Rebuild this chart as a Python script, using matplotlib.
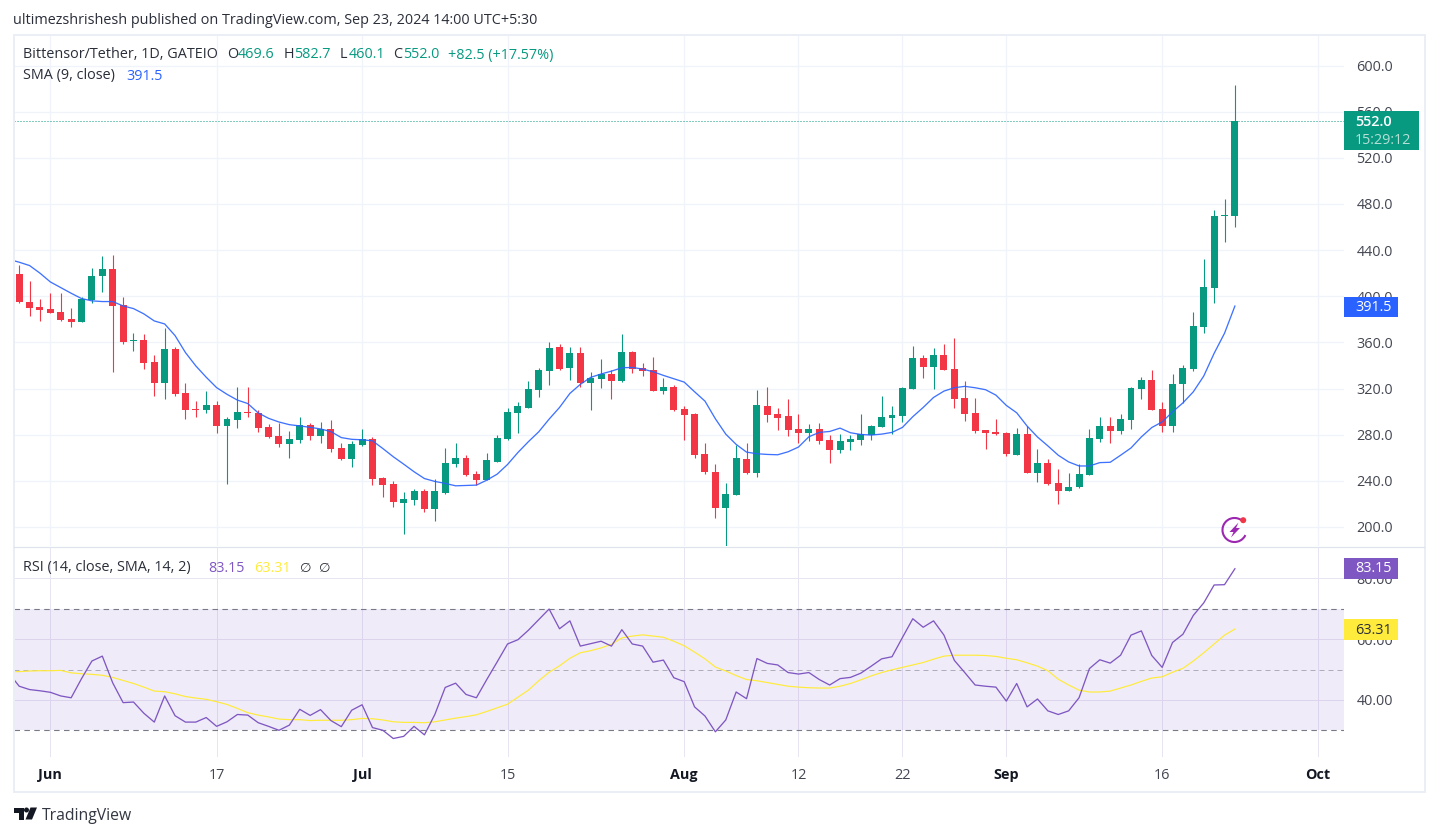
import matplotlib
matplotlib.use("Agg")
from matplotlib import pyplot as plt
from matplotlib.patches import Arc, Circle, Polygon, Rectangle
import pandas as pd

# daily candles
opens = [419.4, 395.1, 390.8, 389.0, 386.4, 380.3, 377.7, 396.8, 417.6, 423.7,
         392.5, 361.5, 362.1, 343.1, 324.9, 354.3, 316.2, 302.3, 301.5, 305.8,
         287.6, 292.8, 299.7, 298.9, 286.7, 278.9, 272.0, 275.4, 288.4, 278.9,
         285.0, 268.5, 259.0, 271.0, 276.2, 242.4, 237.2, 220.7, 223.3, 231.1,
         215.5, 229.4, 254.5, 259.7, 245.9, 240.6, 256.2, 276.2, 298.7, 303.1,
         318.7, 335.1, 356.0, 337.7, 350.8, 324.7, 328.2, 332.6, 326.5, 351.6,
         337.7, 336.0, 317.8, 321.3, 302.2, 297.9, 263.2, 247.6, 216.4, 227.6,
         258.9, 246.7, 304.8, 297.9, 296.1, 284.9, 281.4, 284.9, 275.3, 266.6,
         273.6, 275.3, 279.7, 286.6, 294.4, 296.1, 319.5, 346.4, 338.6, 349.0,
         336.9, 311.9, 298.7, 284.0, 282.3, 281.4, 262.3, 280.5, 246.5, 255.2,
         238.1, 231.2, 234.7, 244.8, 276.0, 287.3, 283.0, 292.6, 319.5, 327.3,
         302.1, 287.3, 323.8, 336.9, 373.4, 407.2, 469.4, 469.6]
highs = [427.2, 413.3, 397.7, 402.9, 402.9, 389.9, 399.4, 424.6, 435.0, 435.8,
         399.4, 368.2, 367.3, 349.1, 372.5, 356.1, 324.9, 309.3, 317.9, 309.3,
         295.4, 321.4, 321.4, 301.5, 289.3, 290.2, 283.2, 295.4, 290.2, 291.0,
         292.8, 272.8, 274.6, 284.9, 277.9, 243.2, 239.8, 230.2, 232.8, 232.8,
         241.5, 268.4, 272.7, 262.3, 248.4, 264.0, 279.7, 303.0, 308.3, 326.5,
         337.7, 360.3, 358.6, 356.0, 356.0, 334.3, 345.5, 336.0, 367.2, 352.5,
         342.0, 347.3, 329.0, 323.0, 304.8, 298.7, 272.7, 254.5, 238.0, 271.0,
         272.7, 318.7, 321.3, 303.1, 310.9, 298.0, 289.2, 290.0, 279.7, 280.5,
         279.7, 298.0, 288.3, 313.5, 304.8, 321.3, 356.8, 349.0, 355.0, 358.6,
         363.8, 326.5, 311.9, 284.0, 293.5, 282.3, 285.7, 287.5, 267.5, 258.7,
         250.3, 246.8, 254.6, 284.7, 295.2, 295.2, 297.8, 321.2, 329.9, 336.0,
         308.2, 332.5, 340.3, 386.4, 432.4, 475.0, 484.6, 582.7]
lows = [393.9, 382.9, 378.6, 385.5, 378.6, 373.4, 377.7, 394.2, 403.8, 334.4,
        358.7, 352.6, 337.0, 313.6, 311.0, 313.6, 293.6, 295.4, 298.9, 281.5,
        237.3, 285.8, 295.4, 282.4, 277.2, 269.4, 259.8, 272.8, 275.4, 272.8,
        265.0, 258.0, 252.0, 270.1, 236.3, 225.9, 217.2, 193.8, 219.0, 212.9,
        205.0, 228.5, 251.9, 244.1, 236.3, 240.6, 256.2, 275.3, 281.4, 303.1,
        312.6, 323.0, 336.0, 327.3, 321.3, 301.3, 320.4, 310.9, 325.6, 333.4,
        330.8, 317.8, 315.2, 300.5, 275.3, 259.7, 245.9, 207.7, 183.6, 227.6,
        245.9, 243.2, 290.9, 284.0, 278.8, 272.7, 274.5, 272.0, 255.4, 264.0,
        266.6, 271.0, 275.3, 286.6, 280.5, 291.0, 319.5, 329.1, 319.5, 336.0,
        303.1, 291.8, 281.4, 267.5, 279.7, 261.5, 262.3, 246.7, 238.9, 236.1,
        220.0, 231.2, 233.8, 244.8, 273.4, 272.6, 280.4, 284.7, 310.8, 301.2,
        282.1, 282.1, 307.3, 335.1, 368.1, 394.2, 447.2, 460.1]
closes = [395.1, 389.9, 388.2, 385.5, 379.5, 377.7, 397.7, 417.6, 423.7, 391.6,
          360.4, 362.0, 342.2, 324.9, 354.3, 315.3, 301.5, 301.7, 305.8, 287.6,
          293.6, 299.7, 299.2, 285.8, 278.0, 272.0, 276.3, 288.4, 278.9, 285.0,
          267.6, 259.0, 272.0, 276.2, 241.5, 236.3, 221.6, 224.2, 231.1, 215.5,
          231.1, 255.4, 259.7, 245.0, 240.6, 258.0, 277.1, 299.6, 304.8, 319.5,
          336.0, 355.1, 336.6, 350.8, 324.7, 329.0, 332.6, 326.5, 351.6, 336.9,
          335.1, 317.8, 321.3, 301.3, 297.0, 262.3, 247.6, 216.4, 228.5, 259.7,
          246.7, 305.7, 297.0, 294.4, 284.0, 281.4, 284.9, 274.5, 266.6, 274.5,
          276.2, 280.5, 287.5, 295.3, 297.0, 320.4, 346.4, 338.6, 349.0, 336.0,
          311.0, 297.9, 283.1, 281.4, 280.5, 263.2, 280.5, 246.7, 255.2, 237.0,
          231.2, 234.7, 245.6, 276.9, 287.3, 283.0, 293.4, 320.4, 327.3, 301.2,
          287.3, 323.8, 337.7, 374.2, 408.1, 469.8, 469.6, 552.0]
# indicator lines start one day earlier, they run in from the left edge
sma_close = [432.0,
             429.5, 426.6, 420.0, 412.4, 407.5, 402.6, 398.0, 396.0, 395.4, 395.4,
             391.6, 389.3, 384.7, 378.6, 376.0, 365.9, 351.2, 339.6, 329.8, 320.8,
             315.0, 310.0, 307.0, 298.9, 294.2, 291.0, 288.7, 287.6, 286.4, 285.0,
             282.7, 277.5, 276.0, 275.6, 274.7, 268.0, 260.9, 254.5, 247.9, 242.0,
             239.5, 237.8, 235.7, 236.0, 236.3, 240.6, 245.8, 254.2, 264.6, 273.9,
             282.5, 293.5, 303.6, 315.8, 323.6, 329.7, 332.6, 335.1, 338.0, 338.3,
             336.9, 334.6, 331.4, 328.5, 325.6, 317.2, 309.1, 293.8, 280.5, 271.6,
             264.9, 263.5, 262.9, 262.6, 265.2, 269.3, 278.2, 282.0, 282.8, 285.7,
             281.7, 280.2, 279.7, 280.5, 282.0, 286.3, 295.6, 303.6, 312.3, 317.8,
             320.7, 321.9, 320.7, 319.0, 314.3, 305.4, 299.0, 287.5, 278.0, 270.3,
             262.2, 256.4, 252.9, 252.9, 255.8, 256.1, 262.2, 268.5, 278.1, 286.2,
             291.1, 299.8, 307.6, 317.2, 330.8, 350.5, 367.9, 391.5]
rsi = [48.8,
       44.5, 43.4, 43.0, 42.5, 41.3, 40.7, 47.0, 52.8, 54.4, 45.6,
       39.1, 39.3, 35.6, 32.7, 41.3, 34.8, 32.7, 32.7, 34.2, 31.3,
       32.8, 35.2, 35.0, 32.5, 31.3, 30.0, 31.7, 36.9, 34.9, 36.8,
       33.2, 31.2, 36.6, 38.4, 30.9, 30.0, 27.3, 28.0, 31.3, 28.5,
       35.2, 44.1, 45.5, 41.8, 40.7, 46.7, 52.5, 58.4, 59.8, 62.9,
       66.4, 69.9, 63.4, 66.0, 57.7, 58.5, 59.3, 57.7, 63.1, 58.4,
       57.7, 52.4, 53.1, 47.3, 46.0, 37.7, 34.7, 29.5, 33.4, 42.6,
       40.4, 53.6, 52.0, 51.5, 49.0, 48.5, 49.0, 46.7, 44.9, 47.0,
       47.4, 48.8, 51.1, 53.5, 54.2, 60.5, 66.7, 63.9, 66.0, 61.3,
       53.0, 49.0, 44.9, 44.5, 44.2, 39.6, 45.4, 37.7, 40.3, 36.4,
       35.2, 36.4, 40.7, 50.3, 53.2, 52.1, 54.7, 61.3, 62.7, 54.6,
       50.7, 58.9, 61.6, 67.8, 71.9, 77.8, 77.9, 83.15]
rsi_sma = [49.3,
           49.3, 49.5, 49.6, 49.6, 49.7, 48.9, 48.6, 48.4, 48.1, 47.4,
           46.4, 45.4, 44.2, 42.9, 42.7, 42.0, 41.1, 40.6, 40.2, 39.4,
           38.5, 37.2, 35.8, 35.0, 34.4, 33.7, 33.5, 33.5, 33.2, 33.3,
           33.3, 33.3, 33.5, 33.9, 33.8, 33.4, 32.8, 32.6, 32.6, 32.5,
           32.8, 33.4, 34.0, 34.5, 35.1, 36.2, 37.4, 38.6, 40.9, 43.2,
           46.3, 49.1, 51.2, 53.7, 55.5, 56.2, 57.1, 58.3, 60.4, 61.0,
           61.4, 61.0, 60.6, 59.3, 57.8, 55.7, 53.5, 50.8, 49.5, 48.0,
           46.7, 46.3, 45.7, 45.1, 44.5, 44.2, 44.0, 43.9, 43.9, 44.5,
           45.4, 46.6, 47.9, 49.0, 49.9, 50.7, 51.5, 52.3, 53.4, 54.4,
           54.7, 54.7, 54.7, 54.6, 54.3, 53.7, 53.2, 52.2, 51.1, 49.6,
           46.8, 44.9, 43.2, 42.6, 42.6, 42.9, 43.9, 44.9, 46.1, 47.2,
           47.6, 49.1, 50.4, 52.8, 55.5, 58.4, 61.3, 63.31]

price_ticks = [200, 240, 280, 320, 360, 400, 440, 480, 520, 560, 600]
rsi_ticks = [40, 60, 80]
date_ticks = ["2024-06-01", "2024-06-17", "2024-07-01", "2024-07-15", "2024-08-01",
              "2024-08-12", "2024-08-22", "2024-09-01", "2024-09-16", "2024-10-01"]
date_labels = ["Jun", "17", "Jul", "15", "Aug", "12", "22", "Sep", "16", "Oct"]
months = ("Jun", "Jul", "Aug", "Sep", "Oct")

GREEN = "#089981"
RED = "#F23645"
BLUE = "#2962FF"
PURPLE = "#7E57C2"
YELLOW = "#FFEB3B"
GRID = "#f0f3fa"
FRAME = "#eceef5"
TEXT = "#2a2e39"
AXIS_TEXT = "#434651"
PX = 0.72  # one pixel in points at dpi 100
FS = 10.35

plt.rcParams["font.family"] = ["Open Sans", "DejaVu Sans"]
W, H = 1438, 836
fig = plt.figure(figsize=(W / 100, H / 100), dpi=100, facecolor="white")


def add_pane(left, top, right, bottom):
    return fig.add_axes([left / W, 1 - bottom / H, (right - left) / W, (bottom - top) / H])


ax = add_pane(14, 36, 1344, 546)
ax_rsi = add_pane(14, 547, 1344, 757)

line_dates = pd.date_range("2024-05-28", periods=len(rsi))
dates = pd.date_range("2024-05-29", periods=len(closes))
tick_dates = pd.to_datetime(date_ticks)
x_left = dates[0] - pd.Timedelta(hours=12)
x_right = dates[0] + pd.Timedelta(hours=12 + 127 * 24)

# candles
colors = [GREEN if c >= o else RED for o, c in zip(opens, closes)]
bottoms = [min(o, c) for o, c in zip(opens, closes)]
heights = [max(abs(c - o), 0.9) for o, c in zip(opens, closes)]
ax.vlines(dates, lows, highs, colors=colors, linewidth=1.1 * PX, zorder=3)
ax.bar(dates, heights, bottom=bottoms, width=0.67, color=colors, linewidth=0, zorder=3)
ax.plot(line_dates, sma_close, color=BLUE, linewidth=1.3 * PX, zorder=4, alpha=0.9)
ax.axhline(closes[-1], color=GREEN, linewidth=1 * PX, linestyle=(0, (1, 2)), zorder=2)

ax.set_ylim(600 - (546 - 65.5) / 1.15375, 600 + (65.5 - 36) / 1.15375)
ax.set_yticks(price_ticks)
ax.set_yticklabels([f"{p:.1f}" for p in price_ticks])

# rsi pane
ax_rsi.axhspan(30, 70, color=PURPLE, alpha=0.115, linewidth=0, zorder=1)
ax_rsi.axhline(70, color="#787B86", linewidth=1.1 * PX, linestyle=(0, (5, 4)), zorder=2)
ax_rsi.axhline(30, color="#787B86", linewidth=1.1 * PX, linestyle=(0, (5, 4)), zorder=2)
ax_rsi.axhline(50, color="#787B86", linewidth=1 * PX, linestyle=(0, (5, 4)), alpha=0.55, zorder=2)
ax_rsi.plot(line_dates, rsi_sma, color=YELLOW, linewidth=1.2 * PX, zorder=3)
ax_rsi.plot(line_dates, rsi, color=PURPLE, linewidth=1.3 * PX, zorder=4)
ax_rsi.set_ylim(30 - (757 - 730.3) / 3.04, 80 + (578.3 - 547) / 3.04)
ax_rsi.set_yticks(rsi_ticks)
ax_rsi.set_yticklabels([f"{r:.2f}" for r in rsi_ticks])

for a in (ax, ax_rsi):
    a.set_xlim(x_left, x_right)
    a.set_xticks(tick_dates)
    a.grid(True, color=GRID, linewidth=1.3 * PX, zorder=0)
    a.set_axisbelow(True)
    a.yaxis.tick_right()
    a.tick_params(axis="both", length=0)
    a.tick_params(axis="y", labelsize=FS, labelcolor=AXIS_TEXT, pad=9)
    for s in a.spines.values():
        s.set_visible(False)
ax.tick_params(axis="x", labelbottom=False)
ax_rsi.grid(True, color="#e8e5f2", linewidth=1 * PX, zorder=1.5)
ax_rsi.set_xticklabels(date_labels)
ax_rsi.tick_params(axis="x", labelsize=FS, pad=8)
for lab in ax_rsi.get_xticklabels():
    if lab.get_text() in months:
        lab.set_fontweight("bold")
        lab.set_color("#131722")
    else:
        lab.set_color(AXIS_TEXT)

# overlay in pixel coordinates for the chrome around the panes
over = fig.add_axes([0, 0, 1, 1], zorder=10)
over.set_xlim(0, W)
over.set_ylim(H, 0)
over.axis("off")
over.patch.set_alpha(0)

over.add_patch(Rectangle((13.5, 35), 1411, 757, fill=False, edgecolor=FRAME, linewidth=2 * PX))
over.plot([14, 1424], [546.5, 546.5], color="#e0e3eb", linewidth=1.2 * PX)


def put(x, y, s, color=TEXT, size=FS, **kw):
    over.text(x, y, s, color=color, fontsize=size, va="center", ha="left", **kw)


def tag(x0, y0, x1, y1, color):
    over.add_patch(Rectangle((x0, y0), x1 - x0, y1 - y0, facecolor=color, edgecolor="none"))


put(13, 20, "ultimezshrishesh published on TradingView.com, Sep 23, 2024 14:00 UTC+5:30")

put(23, 55, "Bittensor/Tether, 1D, GATEIO")
put(227.5, 55, "O")
put(238, 55, "469.6", GREEN)
put(284, 55, "H")
put(294.5, 55, "582.7", GREEN)
put(340, 55, "L")
put(349, 55, "460.1", GREEN)
put(393.5, 55, "C")
put(403.5, 55, "552.0", GREEN)
put(448.5, 55, "+82.5 (+17.57%)", GREEN)

put(23, 76, "SMA (9, close)")
put(126, 76, "391.5", BLUE)

put(23, 568, "RSI (14, close, SMA, 14, 2)")
put(208, 568, "83.15", PURPLE)
put(254, 568, "63.31", YELLOW)
put(300, 568, "\u2205", size=9.5)
put(319, 568, "\u2205", size=9.5)

# value tags on the price scale
tag(1344, 111, 1419, 150, GREEN)
put(1355, 122, "552.0", "white", weight="semibold")
put(1355, 140, "15:29:12", "#b5e0d6")
tag(1344, 297, 1398, 317, BLUE)
put(1355, 307.5, "391.5", "white")
tag(1344, 558, 1398, 579, PURPLE)
put(1355, 569, "83.15", "white")
tag(1344, 619, 1398, 640, YELLOW)
put(1355, 630, "63.31", "#2a2e39")

# lightning badge
over.add_patch(Arc((1234.5, 530), 24, 24, angle=0, theta1=-335, theta2=-55,
                   color="#9C27B0", linewidth=2.1 * PX))
over.add_patch(Polygon([(1238.5, 522.5), (1229.5, 532), (1233.5, 532), (1231, 537.5),
                        (1240, 528), (1236, 528)], closed=True, facecolor="#9C27B0", edgecolor="none"))
over.add_patch(Circle((1243.2, 520.2), 3, facecolor=RED, edgecolor="none"))

# logo
LOGO = "#131722"
over.add_patch(Polygon([(13.5, 807.5), (24, 807.5), (24, 819.5), (18.5, 819.5), (18.5, 812.5), (13.5, 812.5)],
                       closed=True, facecolor=LOGO, edgecolor="none"))
over.add_patch(Circle((26.5, 810), 2.5, facecolor=LOGO, edgecolor="none"))
over.add_patch(Polygon([(30.5, 807.5), (37, 807.5), (32, 819.5), (25.5, 819.5)],
                       closed=True, facecolor=LOGO, edgecolor="none"))
put(42, 816, "TradingView", "#333741", size=11.3)

fig.savefig("out.png", dpi=100, facecolor="white")
